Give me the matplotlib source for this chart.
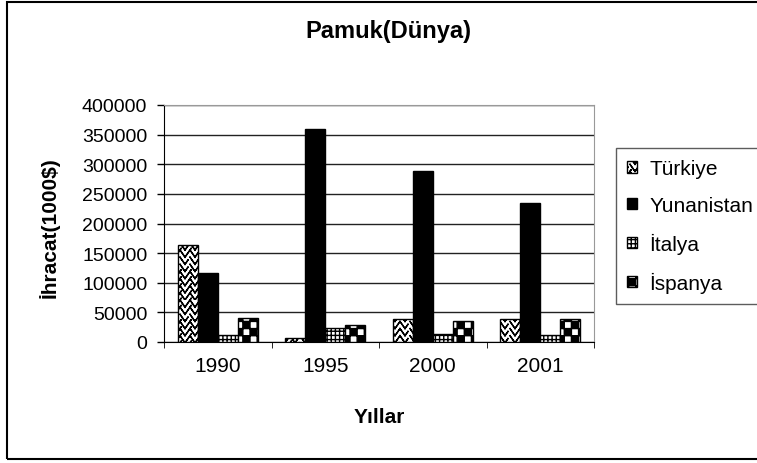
import warnings
warnings.filterwarnings("ignore")
import matplotlib
matplotlib.use("Agg")
import matplotlib.pyplot as plt
import matplotlib.hatch as mhatch
from matplotlib.path import Path
import numpy as np
from matplotlib.patches import Rectangle

plt.rcParams['font.family'] = ['Liberation Sans', 'DejaVu Sans']
plt.rcParams['hatch.linewidth'] = 1.0

years = ['1990', '1995', '2000', '2001']
series = ['Türkiye', 'Yunanistan', 'İtalya', 'İspanya']
turkiye = [163000, 6000, 38000, 38000]
yunanistan = [116000, 360000, 289000, 235000]
italya = [12000, 24000, 13000, 11000]
ispanya = [41000, 28000, 35000, 39000]
yticks = [0, 50000, 100000, 150000, 200000, 250000, 300000, 350000, 400000]


# --- custom hatch patterns (zigzag 'z', checkerboard 'c') -----------------
class ZigzagHatch(mhatch.HatchPatternBase):
    def __init__(self, hatch, density):
        self.on = 'z' in hatch
        self.ncol, self.nrow = 10, 14
        self.num_vertices = 5 * self.ncol * (self.nrow + 1) if self.on else 0

    def set_vertices_and_codes(self, vertices, codes):
        w = 1.0 / self.ncol
        h = 1.0 / self.nrow
        k = 0
        for i in range(self.ncol):
            x0 = i * w
            for j in range(self.nrow + 1):
                y0 = j * h
                a = (x0, y0)
                b = (x0 + w / 2, y0 - h)
                c = (x0 + w, y0)
                vertices[k:k + 5] = [a, b, c, b, a]
                codes[k] = Path.MOVETO
                codes[k + 1:k + 5] = Path.LINETO
                k += 5


class CheckerHatch(mhatch.HatchPatternBase):
    def __init__(self, hatch, density):
        self.on = 'c' in hatch
        self.n = 14
        self.cells = [(i, j) for i in range(self.n) for j in range(self.n)
                      if (i + j) % 2 == 0] if self.on else []
        self.num_vertices = 5 * len(self.cells)

    def set_vertices_and_codes(self, vertices, codes):
        s = 1.0 / self.n
        k = 0
        for i, j in self.cells:
            x0, y0 = i * s, j * s
            vertices[k:k + 5] = [(x0, y0), (x0 + s, y0), (x0 + s, y0 + s),
                                 (x0, y0 + s), (x0, y0)]
            codes[k] = Path.MOVETO
            codes[k + 1:k + 4] = Path.LINETO
            codes[k + 4] = Path.CLOSEPOLY
            k += 5


mhatch._hatch_types.append(ZigzagHatch)
mhatch._hatch_types.append(CheckerHatch)

values = [turkiye, yunanistan, italya, ispanya]
styles = [
    dict(facecolor='white', hatch='z', edgecolor='black'),
    dict(facecolor='black', hatch=None, edgecolor='black'),
    dict(facecolor='white', hatch='++++', edgecolor='black'),
    dict(facecolor='white', hatch='c', edgecolor='black'),
]

fig = plt.figure(figsize=(7.57, 4.64), dpi=100)
ax = fig.add_axes([164 / 757, 1 - 343 / 464, 430 / 757, 237 / 464])

x = np.arange(len(years))
w = 0.186
for i, (vals, st) in enumerate(zip(values, styles)):
    ax.bar(x + (i - 1.5) * w, vals, width=w, label=series[i],
           linewidth=1.0, zorder=3, **st)

ax.set_xlim(-0.5, len(years) - 0.5)
ax.set_ylim(0, 400000)
ax.set_yticks(yticks)
ax.set_yticklabels([str(v) for v in yticks], fontsize=14)
ax.set_xticks(x)
ax.set_xticklabels(years, fontsize=15)
ax.tick_params(axis='x', length=0, pad=10)
ax.set_xticks(np.arange(-0.5, len(years)), minor=True)
ax.tick_params(axis='x', which='minor', length=4.5, direction='out', color='black')
ax.tick_params(axis='y', length=5, width=1, direction='out', color='black', pad=7)
ax.grid(axis='y', color='#222222', linewidth=1.0, zorder=0)
for s in ['top', 'right']:
    ax.spines[s].set_color('#999999')
for s in ['left', 'bottom']:
    ax.spines[s].set_color('black')

fig.text(379 / 757, 1 - 423 / 464, 'Yıllar', ha='center', va='baseline',
         fontsize=15, fontweight='bold')
fig.text(49 / 757, 1 - 228 / 464, 'İhracat(1000$)', ha='center', va='center',
         rotation=90, fontsize=15, fontweight='bold')
fig.text(388 / 757, 1 - 38 / 464, 'Pamuk(Dünya)', ha='center', va='baseline',
         fontsize=17, fontweight='bold')

leg = fig.legend(loc='upper left', bbox_to_anchor=(616 / 757, 1 - 149 / 464),
                 borderaxespad=0, fontsize=15, frameon=True, fancybox=False,
                 edgecolor='#333333', handlelength=0.45, handleheight=0.45,
                 handletextpad=0.6, labelspacing=0.85, borderpad=0.55)
leg.get_frame().set_linewidth(1.0)

fig.patches.append(Rectangle((7 / 757, 4 / 464), 1.2, 1 - 7 / 464,
                             transform=fig.transFigure, fill=False,
                             edgecolor='black', linewidth=1.5))

fig.savefig('out.png', dpi=100)
